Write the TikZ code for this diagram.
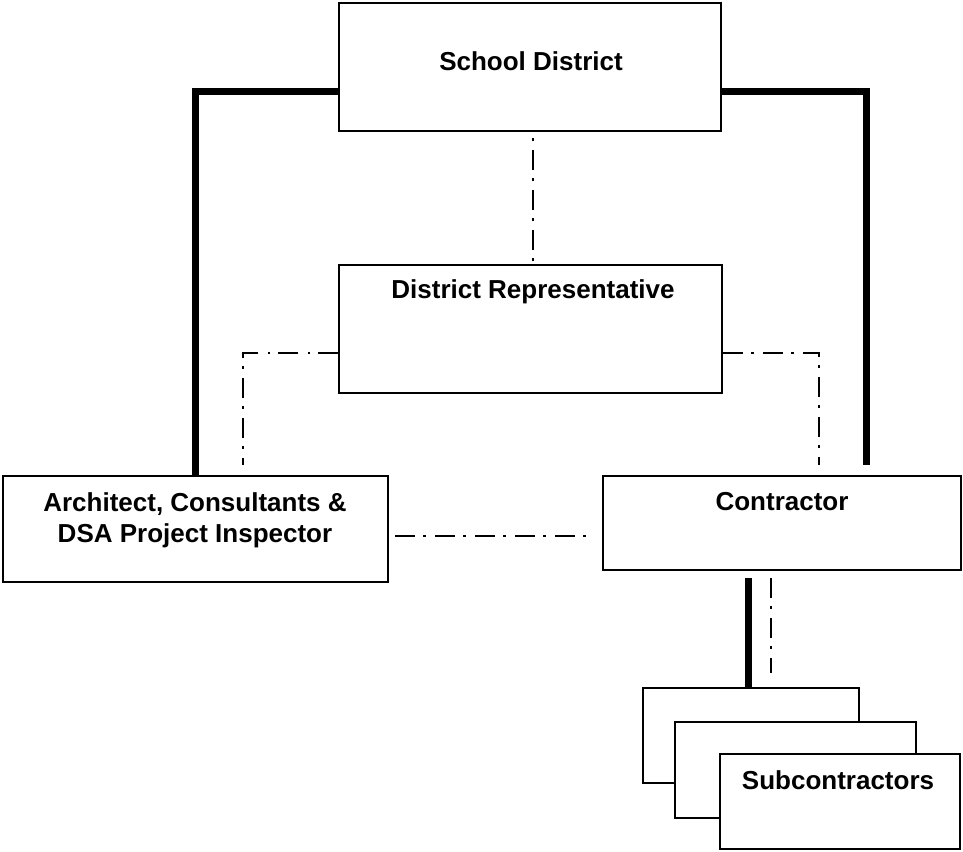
\documentclass[tikz,border=0pt]{standalone}
\usepackage{fontspec}
\setmainfont{Liberation Sans}
\usetikzlibrary{calc}
\begin{document}
\begin{tikzpicture}[x=1pt,y=-1pt,
  box/.style={draw,line width=2pt,fill=white,inner sep=0pt},
  lbl/.style={font=\bfseries\fontsize{26}{31}\selectfont,align=center,inner sep=0pt},
  heavy/.style={line width=7pt},
  dashdot/.style={line width=2pt,dash pattern=on 20pt off 8pt on 2.5pt off 9.5pt}]
\useasboundingbox (0,0) rectangle (963,851);

% boxes
\node[box,minimum width=382pt,minimum height=128pt] (sd) at (530,67) {};
\node[box,minimum width=383pt,minimum height=128pt] (dr) at (530.5,329) {};
\node[box,minimum width=385pt,minimum height=106pt] (arch) at (195.5,529) {};
\node[box,minimum width=358pt,minimum height=94pt] (con) at (782,523) {};
\node[box,minimum width=216pt,minimum height=95pt] (s1) at (751,735.5) {};
\node[box,minimum width=241pt,minimum height=96pt] (s2) at (795.5,770) {};
\node[box,minimum width=240pt,minimum height=95pt] (s3) at (840,801.5) {};

% texts
\node[lbl] (sdt) at (531,61) {School District};
\node[lbl] (drt) at (533,292) {District Representative};
\node[lbl] (archt) at (195,520) {Architect, Consultants \&\\DSA Project Inspector};
\node[lbl] (cont) at (782,502) {Contractor};
\node[lbl] (s3t) at (838,780) {Subcontractors};

% heavy connectors
\coordinate (rend) at (866,465);
\draw[heavy] ([yshift=-24pt]sd.west) -| (arch.north);
\draw[heavy] ([yshift=-24pt]sd.east) -| (rend);
\coordinate (hb) at ($(con.south)+(-34,7)$);
\draw[heavy] (hb) -- (hb |- s1.north);

% dash-dot connectors
\draw[dashdot,dash phase=22pt] ([xshift=3pt]sd.south) -- ([xshift=2.5pt]dr.north);
\coordinate (lend) at (243,465);
\coordinate (rdend) at (819,465);
\draw[dashdot] ([yshift=-24pt]dr.west) -| (lend);
\draw[dashdot] ([yshift=-24pt]dr.east) -| (rdend);
\draw[dashdot] ([xshift=6pt,yshift=-7pt]arch.east) -- ([xshift=-8pt,yshift=-7pt]arch.east -| con.west);
\coordinate (dt) at ($(con.south)+(-11,7)$);
\coordinate (db) at ($(con.south)+(-11,102)$);
\draw[dashdot] (dt) -- (db);
\end{tikzpicture}
\end{document}
